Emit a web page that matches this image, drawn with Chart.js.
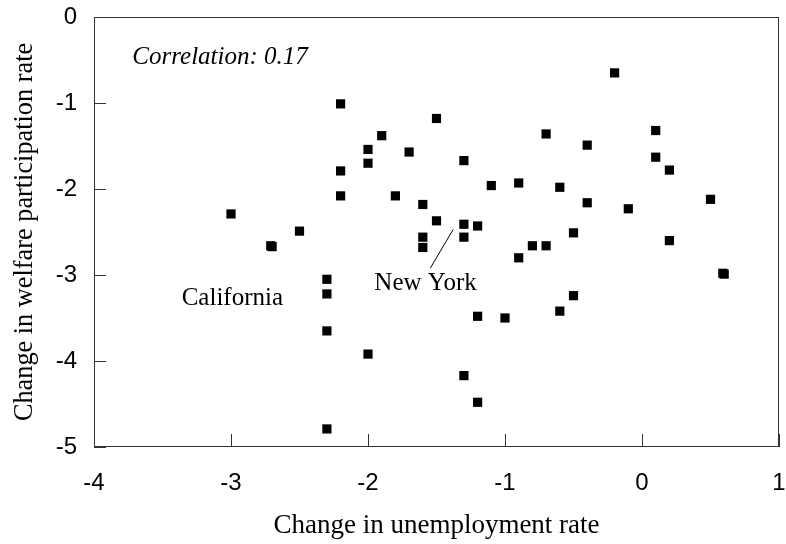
<!DOCTYPE html>
<html>
<head>
<meta charset="utf-8">
<script src="https://cdn.jsdelivr.net/npm/chart.js@4"></script>
<style>
  body { margin: 0; background: #fff; }
  #wrap { width: 786px; height: 544px; }
</style>
</head>
<body>
<div id="wrap"><canvas id="chart"></canvas></div>
<script>
// change in unemployment rate (x) and welfare participation rate (y), one entry per state
const unemploymentChange = [
  -3.0, -2.7, -2.71, -2.5, -2.2, -1.9, -2.0, -1.7, -2.0, -2.2,
  -2.2, -1.8, -1.6, -1.6, -1.6, -2.3, -2.3, -2.3, -2.3, -2.0,
  -0.2, -1.5, -0.7, -0.4, -1.3, -1.1, -0.9, -0.6, -0.4, -0.1,
  -1.5, -1.3, -1.2, -1.3, -0.5, -0.8, -0.7, -0.9, 0.1, 0.1,
  0.2, 0.5, 0.2, 0.6, 0.59, -1.2, -1.3, -1.2, -0.5, -0.6, -1.0
];
const welfareChange = [
  -2.29, -2.67, -2.66, -2.49, -1.01, -1.38, -1.54, -1.57, -1.70, -1.79,
  -2.08, -2.08, -2.18, -2.56, -2.68, -3.05, -3.22, -3.65, -4.79, -3.92,
  -0.65, -1.18, -1.36, -1.49, -1.67, -1.96, -1.93, -1.98, -2.16, -2.23,
  -2.37, -2.41, -2.43, -2.56, -2.51, -2.66, -2.66, -2.80, -1.32, -1.63,
  -1.78, -2.12, -2.60, -2.99, -2.98, -3.48, -4.17, -4.48, -3.24, -3.42, -3.50
];
const xTickValues = [-4, -3, -2, -1, 0, 1];
const yTickValues = [0, -1, -2, -3, -4, -5];

const correlationText = 'Correlation: 0.17';
const stateNotes = [
  { text: 'California', x: -2.99, y: -3.27 },
  { text: 'New York', x: -1.58, y: -3.10 }
];
const newYorkPointer = { x1: -1.545, y1: -2.92, x2: -1.378, y2: -2.47 };

const points = unemploymentChange.map((x, i) => ({ x: x, y: welfareChange[i] }));

// frame, inward ticks and the text notes
const framePlugin = {
  id: 'frame',
  afterDraw(chart) {
    const { ctx, chartArea: a, scales } = chart;
    ctx.save();
    ctx.strokeStyle = '#333';
    ctx.lineWidth = 1;
    ctx.strokeRect(a.left + 0.5, a.top + 0.5, a.right - a.left - 1, a.bottom - a.top - 1);
    ctx.beginPath();
    xTickValues.forEach(v => {
      const px = Math.round(scales.x.getPixelForValue(v)) + 0.5;
      ctx.moveTo(px, a.bottom);
      ctx.lineTo(px, a.bottom - 13);
    });
    yTickValues.forEach(v => {
      const py = Math.round(scales.y.getPixelForValue(v)) + 0.5;
      ctx.moveTo(a.left, py);
      ctx.lineTo(a.left + 12, py);
    });
    ctx.stroke();

    ctx.fillStyle = '#000';
    ctx.textBaseline = 'middle';
    ctx.font = 'italic 25px "Liberation Serif"';
    ctx.textAlign = 'left';
    ctx.fillText(correlationText, scales.x.getPixelForValue(-3.72), scales.y.getPixelForValue(-0.47));

    ctx.font = '25px "Liberation Serif"';
    ctx.textAlign = 'center';
    stateNotes.forEach(n => {
      ctx.fillText(n.text, scales.x.getPixelForValue(n.x), scales.y.getPixelForValue(n.y));
    });

    ctx.beginPath();
    ctx.strokeStyle = '#000';
    ctx.moveTo(scales.x.getPixelForValue(newYorkPointer.x1), scales.y.getPixelForValue(newYorkPointer.y1));
    ctx.lineTo(scales.x.getPixelForValue(newYorkPointer.x2), scales.y.getPixelForValue(newYorkPointer.y2));
    ctx.stroke();
    ctx.restore();
  }
};

new Chart(document.getElementById('chart'), {
  type: 'scatter',
  data: {
    datasets: [{
      data: points,
      pointStyle: 'rect',
      pointRadius: 6.5,
      pointHoverRadius: 6.5,
      backgroundColor: '#000',
      borderColor: '#000',
      borderWidth: 0
    }]
  },
  options: {
    responsive: true,
    maintainAspectRatio: false,
    animation: false,
    layout: { autoPadding: false, padding: { top: 17, right: 7, left: 0, bottom: 0 } },
    plugins: {
      legend: { display: false },
      tooltip: { enabled: false }
    },
    scales: {
      x: {
        type: 'linear',
        min: -4,
        max: 1,
        afterFit: s => {
          s.height = 97;
          s.paddingLeft = 0;
          s.paddingRight = 0;
        },
        afterBuildTicks: s => { s.ticks = xTickValues.map(v => ({ value: v })); },
        grid: { display: false, drawTicks: false },
        border: { display: false },
        ticks: {
          color: '#000',
          padding: 22,
          font: { family: '"Liberation Sans"', size: 24 },
          maxRotation: 0
        },
        title: {
          display: true,
          text: 'Change in unemployment rate',
          color: '#000',
          font: { family: '"Liberation Serif"', size: 27 },
          padding: { top: 0, bottom: 2 }
        }
      },
      y: {
        type: 'linear',
        min: -5,
        max: 0,
        afterFit: s => {
          s.width = 94;
          s.paddingTop = 0;
          s.paddingBottom = 0;
        },
        afterBuildTicks: s => { s.ticks = yTickValues.map(v => ({ value: v })); },
        grid: { display: false, drawTicks: false },
        border: { display: false },
        ticks: {
          color: '#000',
          padding: 17,
          font: { family: '"Liberation Sans"', size: 24 }
        },
        title: {
          display: true,
          text: 'Change in welfare participation rate',
          color: '#000',
          font: { family: '"Liberation Serif"', size: 26.3 },
          padding: { top: 9, bottom: 0 }
        }
      }
    }
  },
  plugins: [framePlugin]
});
</script>
</body>
</html>
